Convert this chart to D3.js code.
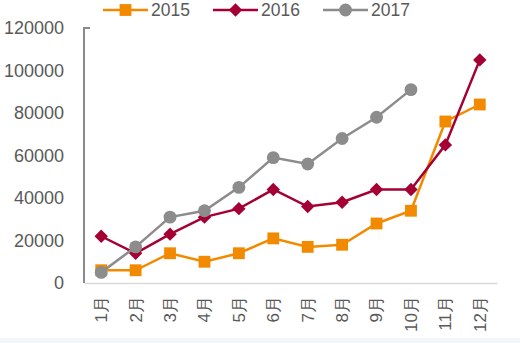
<!DOCTYPE html>
<html><head><meta charset="utf-8">
<script src="https://cdn.jsdelivr.net/npm/d3@7"></script>
<style>body{margin:0;background:#fff}svg{display:block}text{font-family:"Liberation Sans",Arial,sans-serif}</style>
</head><body><svg id="c" width="520" height="343"></svg>
<script>
const months = ["1月","2月","3月","4月","5月","6月","7月","8月","9月","10月","11月","12月"];
const s2015 = [6000,6000,14000,10000,14000,21000,17000,18000,28000,34000,76000,84000];
const s2016 = [22000,14000,23000,31000,35000,44000,36000,38000,44000,44000,65000,105000];
const s2017 = [5000,17000,31000,34000,45000,59000,56000,68000,78000,91000];
const yTicks = [0,20000,40000,60000,80000,100000,120000];
const seriesNames = ["2015","2016","2017"];
const colors = ["#f28a00","#a50034","#8c8c8c"];
const shapes = [d3.symbolSquare, d3.symbolSquare, d3.symbolCircle];
const rot = [0,45,0];
const symSizes = [140, 90, 130];

const svg = d3.select("#c");
svg.append("rect").attr("x",0).attr("y",338).attr("width",520).attr("height",5).attr("fill","#f2f6fb");
const x = d3.scaleBand().domain(months).range([84,497]);
const y = d3.scaleLinear().domain([0,120000]).range([283,28]);

// y axis
const ya = svg.append("g").attr("transform","translate(84,0)")
  .call(d3.axisLeft(y).tickValues(yTicks).tickSize(0).tickPadding(20).tickFormat(d3.format("d")));
ya.select(".domain").remove();
ya.selectAll("text").attr("fill","#595959").style("font-size","18px");
svg.append("path").attr("d",`M90,${y(120000)}H84V${y(0)}`).attr("fill","none").attr("stroke","#8a8a8a").attr("stroke-width",2);

// x axis
const xa = svg.append("g").attr("transform","translate(0,283)")
  .call(d3.axisBottom(x).tickSize(0).tickPadding(0));
xa.select(".domain").attr("stroke","#d9d9d9").attr("stroke-width",1.5);
xa.selectAll("text").attr("fill","#595959").style("font-size","17px")
  .attr("transform","rotate(-90)").attr("text-anchor","end").attr("dy","0.35em").attr("x",-13).attr("y",0);

const data = [s2015,s2016,s2017];
const line = d3.line().x((d,i)=>x(months[i])+x.bandwidth()/2).y(d=>y(d));
data.forEach((s,k)=>{
  const g = svg.append("g");
  g.append("path").datum(s).attr("d",line).attr("fill","none").attr("stroke",colors[k]).attr("stroke-width",2.5);
  g.selectAll("path.m").data(s).join("path").attr("class","m")
    .attr("transform",(d,i)=>`translate(${x(months[i])+x.bandwidth()/2},${y(d)}) rotate(${rot[k]})`)
    .attr("d",d3.symbol().type(shapes[k]).size(symSizes[k])).attr("fill",colors[k]);
});

// legend
const lx = [103,213,323];
seriesNames.forEach((n,k)=>{
  const g = svg.append("g").attr("transform",`translate(${lx[k]},10)`);
  g.append("line").attr("x1",0).attr("x2",45).attr("stroke",colors[k]).attr("stroke-width",2.5);
  g.append("path").attr("transform",`translate(22.5,0) rotate(${rot[k]})`).attr("d",d3.symbol().type(shapes[k]).size(symSizes[k])).attr("fill",colors[k]);
  g.append("text").attr("x",48).attr("y",0).attr("dy","0.35em").attr("fill","#595959").style("font-size","17.5px").text(n);
});
</script></body></html>
